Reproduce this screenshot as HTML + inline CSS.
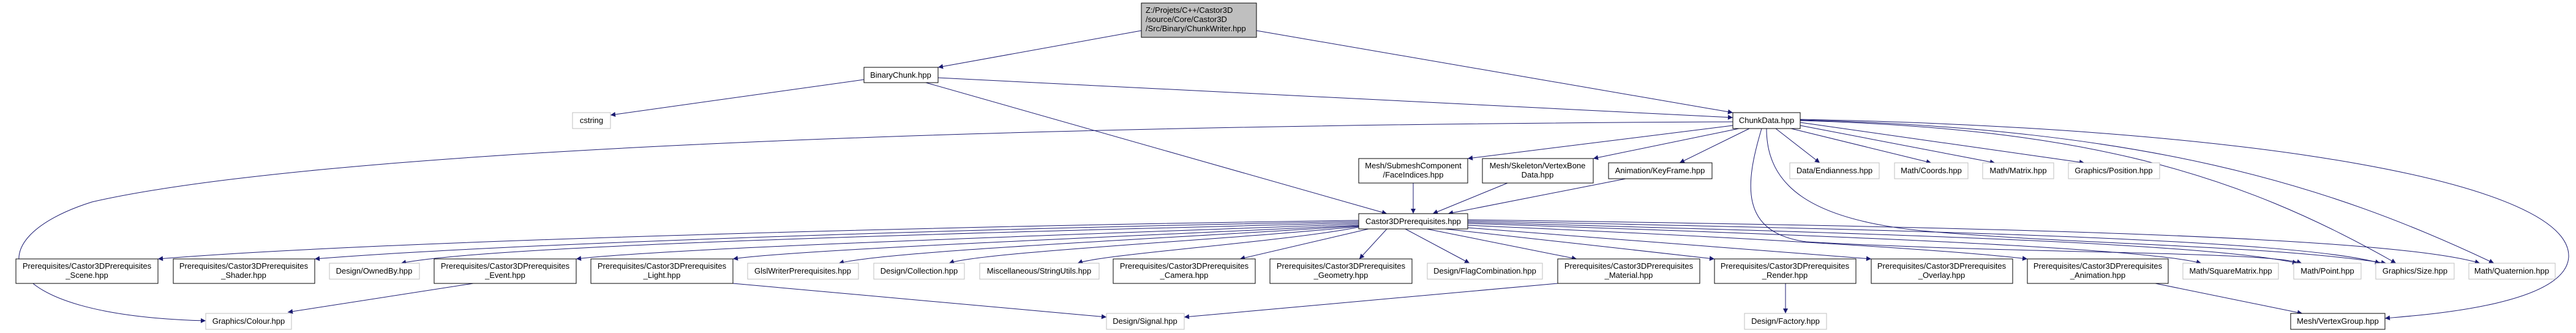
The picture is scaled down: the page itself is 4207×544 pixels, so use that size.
<!DOCTYPE html>
<html><head><meta charset="utf-8"><style>
html,body{margin:0;padding:0;background:#fff;}
svg{display:block;}
text{font-family:"Liberation Sans",Arial,sans-serif;font-size:13px;fill:#000;text-anchor:middle;}
.b{fill:#fff;stroke:#000;stroke-width:1;}
.g{fill:#fff;stroke:#bfbfbf;stroke-width:1;}
.e{fill:none;stroke:#191970;stroke-width:1;marker-end:url(#a);}
</style></head><body>
<svg width="4207" height="544" viewBox="0 0 4207 544" xmlns="http://www.w3.org/2000/svg">
<defs><marker id="a" viewBox="0 0 10 10" refX="10" refY="5" markerWidth="10" markerHeight="8" markerUnits="userSpaceOnUse" orient="auto"><path d="M0,0 L10,5 L0,10 z" fill="#191970"/></marker></defs>

<path class="e" d="M1864,50 L1532,110"/>
<path class="e" d="M2052,50 L2830,184"/>
<path class="e" d="M1411,130 L997,188"/>
<path class="e" d="M1532,127 L2830,192"/>
<path class="e" d="M1512,135 L2265,349"/>
<path class="e" d="M2830,199 C1500,205 500,250 150,330 C-40,390 -20,515 336,524"/>
<path class="e" d="M2830,205 L2397,259"/>
<path class="e" d="M2840,210 L2602,259"/>
<path class="e" d="M2857,210 L2743,266"/>
<path class="e" d="M2900,210 L2972,266"/>
<path class="e" d="M2925,210 L3154,266"/>
<path class="e" d="M2940,205 L3258,266"/>
<path class="e" d="M2940,200 L3404,266"/>
<path class="e" d="M2877,210 C2850,300 2840,380 2950,395 C3300,415 3700,410 3759,430"/>
<path class="e" d="M2885,210 C2885,300 2950,360 3150,378 C3400,400 3700,400 3897,430"/>
<path class="e" d="M2940,197 C3400,210 3650,280 3913,430"/>
<path class="e" d="M2940,196 C3500,210 3800,300 4073,430"/>
<path class="e" d="M2940,195 C3700,210 4200,300 4195,420 C4190,500 3950,515 3895,520"/>

<path class="e" d="M2308,299 L2308,349"/>
<path class="e" d="M2462,299 L2340,349"/>
<path class="e" d="M2655,292 L2365,349"/>

<path class="e" d="M2219,360 C1500,370 600,395 258,423"/>
<path class="e" d="M2219,362 C1500,375 800,400 514,423"/>
<path class="e" d="M2219,364 C1600,380 800,400 655,430"/>
<path class="e" d="M2219,366 C1700,385 1100,405 941,423"/>
<path class="e" d="M2219,368 C1800,388 1300,408 1197,423"/>
<path class="e" d="M2219,369 C1900,390 1450,410 1370,430"/>
<path class="e" d="M2219,370 C2000,392 1600,412 1550,430"/>
<path class="e" d="M2219,371 C2100,395 1800,415 1760,430"/>
<path class="e" d="M2235,374 L2025,423"/>
<path class="e" d="M2265,374 L2220,423"/>
<path class="e" d="M2295,374 L2400,430"/>
<path class="e" d="M2330,374 L2575,423"/>
<path class="e" d="M2360,374 L2800,423"/>
<path class="e" d="M2397,372 L3056,423"/>
<path class="e" d="M2397,368 C2900,390 3200,410 3311,423"/>
<path class="e" d="M2397,365 C3000,385 3500,405 3595,430"/>
<path class="e" d="M2397,363 C3000,380 3600,395 3752,430"/>
<path class="e" d="M2397,361 C3100,375 3750,390 3887,430"/>
<path class="e" d="M2397,359 C3200,370 3900,385 4050,430"/>

<path class="e" d="M773,463 L470,510"/>
<path class="e" d="M1197,463 L1807,518"/>
<path class="e" d="M2544,463 L1934,518"/>
<path class="e" d="M2916,463 L2916,512"/>
<path class="e" d="M3520,463 L3760,512"/>

<rect x="1864" y="5" width="188" height="56" fill="#bfbfbf" stroke="#000"/>
<text x="1871" y="21" style="text-anchor:start">Z:/Projets/C++/Castor3D</text>
<text x="1871" y="36" style="text-anchor:start">/source/Core/Castor3D</text>
<text x="1871" y="51" style="text-anchor:start">/Src/Binary/ChunkWriter.hpp</text>

<rect class="b" x="1411" y="110" width="121" height="25"/><text x="1471" y="127">BinaryChunk.hpp</text>
<rect class="g" x="935" y="184" width="62" height="26"/><text x="966" y="201">cstring</text>
<rect class="b" x="2830" y="184" width="110" height="26"/><text x="2885" y="201">ChunkData.hpp</text>

<rect class="b" x="2219" y="259" width="178" height="40"/><text x="2308" y="275">Mesh/SubmeshComponent</text><text x="2308" y="290">/FaceIndices.hpp</text>
<rect class="b" x="2421" y="259" width="181" height="40"/><text x="2511" y="275">Mesh/Skeleton/VertexBone</text><text x="2511" y="290">Data.hpp</text>
<rect class="b" x="2627" y="266" width="169" height="26"/><text x="2711" y="283">Animation/KeyFrame.hpp</text>
<rect class="g" x="2923" y="266" width="146" height="26"/><text x="2996" y="283">Data/Endianness.hpp</text>
<rect class="g" x="3094" y="266" width="120" height="26"/><text x="3154" y="283">Math/Coords.hpp</text>
<rect class="g" x="3238" y="266" width="116" height="26"/><text x="3296" y="283">Math/Matrix.hpp</text>
<rect class="g" x="3378" y="266" width="149" height="26"/><text x="3452" y="283">Graphics/Position.hpp</text>

<rect class="b" x="2219" y="349" width="178" height="25"/><text x="2308" y="366">Castor3DPrerequisites.hpp</text>

<rect class="b" x="26" y="423" width="232" height="40"/><text x="142" y="439">Prerequisites/Castor3DPrerequisites</text><text x="142" y="454">_Scene.hpp</text>
<rect class="b" x="283" y="423" width="231" height="40"/><text x="398" y="439">Prerequisites/Castor3DPrerequisites</text><text x="398" y="454">_Shader.hpp</text>
<rect class="g" x="538" y="430" width="147" height="26"/><text x="611" y="447">Design/OwnedBy.hpp</text>
<rect class="b" x="709" y="423" width="232" height="40"/><text x="825" y="439">Prerequisites/Castor3DPrerequisites</text><text x="825" y="454">_Event.hpp</text>
<rect class="b" x="965" y="423" width="232" height="40"/><text x="1081" y="439">Prerequisites/Castor3DPrerequisites</text><text x="1081" y="454">_Light.hpp</text>
<rect class="g" x="1221" y="430" width="181" height="26"/><text x="1311" y="447">GlslWriterPrerequisites.hpp</text>
<rect class="g" x="1427" y="430" width="148" height="26"/><text x="1501" y="447">Design/Collection.hpp</text>
<rect class="g" x="1600" y="430" width="195" height="26"/><text x="1697" y="447">Miscellaneous/StringUtils.hpp</text>
<rect class="b" x="1818" y="423" width="232" height="40"/><text x="1934" y="439">Prerequisites/Castor3DPrerequisites</text><text x="1934" y="454">_Camera.hpp</text>
<rect class="b" x="2074" y="423" width="232" height="40"/><text x="2190" y="439">Prerequisites/Castor3DPrerequisites</text><text x="2190" y="454">_Geometry.hpp</text>
<rect class="g" x="2331" y="430" width="188" height="26"/><text x="2425" y="447">Design/FlagCombination.hpp</text>
<rect class="b" x="2544" y="423" width="232" height="40"/><text x="2660" y="439">Prerequisites/Castor3DPrerequisites</text><text x="2660" y="454">_Material.hpp</text>
<rect class="b" x="2800" y="423" width="231" height="40"/><text x="2915" y="439">Prerequisites/Castor3DPrerequisites</text><text x="2915" y="454">_Render.hpp</text>
<rect class="b" x="3056" y="423" width="231" height="40"/><text x="3171" y="439">Prerequisites/Castor3DPrerequisites</text><text x="3171" y="454">_Overlay.hpp</text>
<rect class="b" x="3311" y="423" width="230" height="40"/><text x="3426" y="439">Prerequisites/Castor3DPrerequisites</text><text x="3426" y="454">_Animation.hpp</text>
<rect class="g" x="3565" y="430" width="156" height="26"/><text x="3643" y="447">Math/SquareMatrix.hpp</text>
<rect class="g" x="3746" y="430" width="110" height="26"/><text x="3801" y="447">Math/Point.hpp</text>
<rect class="g" x="3880" y="430" width="128" height="26"/><text x="3944" y="447">Graphics/Size.hpp</text>
<rect class="g" x="4032" y="430" width="141" height="26"/><text x="4102" y="447">Math/Quaternion.hpp</text>

<rect class="g" x="336" y="512" width="140" height="26"/><text x="406" y="529">Graphics/Colour.hpp</text>
<rect class="g" x="1807" y="512" width="127" height="26"/><text x="1870" y="529">Design/Signal.hpp</text>
<rect class="g" x="2849" y="512" width="134" height="26"/><text x="2916" y="529">Design/Factory.hpp</text>
<rect class="b" x="3741" y="512" width="154" height="26"/><text x="3818" y="529">Mesh/VertexGroup.hpp</text>
</svg>
</body></html>
